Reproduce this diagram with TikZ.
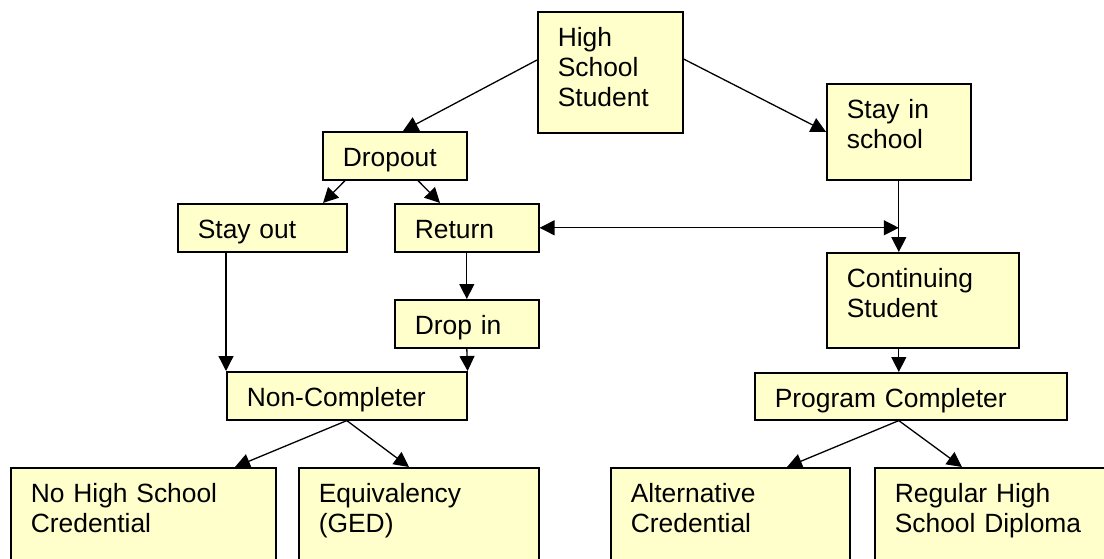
\documentclass[tikz,border=0pt]{standalone}
\usepackage{fontspec}
\setmainfont{Liberation Sans}
\usetikzlibrary{arrows.meta,calc}
\definecolor{boxfill}{RGB}{255,255,204}
\tikzset{
  box/.style 2 args={draw, fill=boxfill, line width=0.8pt, anchor=north west,
    inner xsep=10pt, inner ysep=0pt, align=left, text height=17.5pt,
    text width=#1, text depth=#2, font=\fontsize{13.2}{15}\selectfont},
  arr/.style={-{Triangle[length=7.5pt,width=7.5pt]}, line width=0.65pt},
  dbl/.style={{Triangle[length=7.5pt,width=7.5pt]}-{Triangle[length=7.5pt,width=7.5pt]}, line width=0.65pt}
}
\begin{document}
\begin{tikzpicture}[x=0.5pt,y=-0.5pt]
\useasboundingbox (0,0) rectangle (1104,558);
\clip (0,0) rectangle (1104,558);

\node[box={52.5pt}{43pt}] (hss) at (537,11) {High\\School\\Student};
\node[box={52pt}{6.5pt}] (dropout) at (322,131) {Dropout};
\node[box={52pt}{30.5pt}] (stayin) at (826,83) {Stay in\\school};
\node[box={64.5pt}{6.5pt}] (stayout) at (177,203) {Stay out};
\node[box={52pt}{6.5pt}] (return) at (394,203) {Return};
\node[box={52pt}{6.5pt}] (dropin) at (394,299) {Drop in};
\node[box={76pt}{30pt}] (cont) at (826,252) {Continuing\\Student};
\node[box={100pt}{6.5pt}] (noncomp) at (226,371) {Non-Completer};
\node[box={136pt}{6pt}] (progcomp) at (754,372) {Program Completer};
\node[box={112.5pt}{44pt}] (nohs) at (10,467) {No High School\\Credential};
\node[box={100pt}{44pt}] (equiv) at (298,467) {Equivalency\\(GED)};
\node[box={99.5pt}{44pt}] (alt) at (610,467) {Alternative\\Credential};
\node[box={108pt}{44pt}] (regular) at (874,467) {Regular High\\School Diploma};

\draw[arr] ([yshift=-24.5pt]hss.north west) -- ([xshift=40.5pt]dropout.north west);
\draw[arr] ([yshift=-24pt]hss.north east) -- (stayin.west);
\draw[arr] ([xshift=11.5pt]dropout.south west) -- ([xshift=73pt]stayout.north west);
\draw[arr] ([xshift=48pt]dropout.south west) -- ([xshift=23pt]return.north west);
\draw[arr] (stayout.south -| noncomp.west) -- (noncomp.north west);
\draw[arr] (return.south) -- (dropin.north);
\draw[arr] (dropin.south) -- (noncomp.north east);
\draw[dbl] (return.east) -- (return.east -| stayin.south);
\draw[arr] (stayin.south) -- (stayin.south |- cont.north);
\draw[arr] (stayin.south |- cont.south) -- (stayin.south |- progcomp.north);
\draw[arr] (noncomp.south) -- ([xshift=112.5pt]nohs.north west);
\draw[arr] (noncomp.south) -- ([xshift=55.5pt]equiv.north west);
\draw[arr] (stayin.south |- progcomp.south) -- ([xshift=88.5pt]alt.north west);
\draw[arr] (stayin.south |- progcomp.south) -- ([xshift=44pt]regular.north west);
\end{tikzpicture}
\end{document}
